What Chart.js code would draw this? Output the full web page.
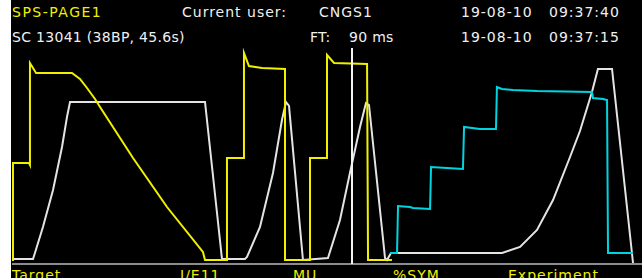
<!DOCTYPE html>
<html>
<head>
<meta charset="utf-8">
<script src="https://cdn.jsdelivr.net/npm/chart.js@4.4.0/dist/chart.umd.min.js"></script>
<style>
    html, body { margin: 0; padding: 0; }
    body { width: 642px; height: 278px; background: #000; position: relative; overflow: hidden;
           font-family: "DejaVu Sans", sans-serif; color: #f0f0f0; }
    .strip { position: absolute; left: 0; top: 0; width: 11px; height: 278px; background: #fff; }
    .txt { position: absolute; white-space: pre; line-height: 1; font-size: 14px; letter-spacing: 1px; }
    .tight { letter-spacing: 0.3px; }
    .yel { color: #f0f000; }
    #chart-box { position: absolute; left: 12px; top: 40px; width: 630px; height: 226px; }
</style>
</head>
<body>
<div class="strip"></div>

<div class="txt yel" style="left:12px; top:5px; letter-spacing:1.5px;">SPS-PAGE1</div>
<div class="txt" style="left:182px; top:5px;">Current user:</div>
<div class="txt" style="left:319px; top:5px;">CNGS1</div>
<div class="txt" style="left:461px; top:5px;">19-08-10</div>
<div class="txt" style="left:549px; top:5px;">09:37:40</div>

<div class="txt tight" style="left:12px; top:30px;">SC 13041 (38BP, 45.6s)</div>
<div class="txt tight" style="left:310px; top:30px;">FT:</div>
<div class="txt tight" style="left:349px; top:30px;">90 ms</div>
<div class="txt" style="left:461px; top:30px;">19-08-10</div>
<div class="txt" style="left:549px; top:30px;">09:37:15</div>

<div class="txt yel" style="left:12px; top:268px;">Target</div>
<div class="txt yel" style="left:180px; top:268px;">I/E11</div>
<div class="txt yel" style="left:293px; top:268px;">MU</div>
<div class="txt yel" style="left:393px; top:268px;">%SYM</div>
<div class="txt yel" style="left:508px; top:268px;">Experiment</div>

<div id="chart-box"><canvas id="cycle-chart"></canvas></div>

<script>
// Time in the supercycle (s) and signal level (arbitrary units)
const yellowTime = [0, 0.07, 0.07, 1.23, 1.30, 1.30, 1.52, 1.74, 4.34, 4.92, 5.43, 6.01, 6.37, 8.76, 11.22, 13.82, 13.97,
    15.56, 15.56, 16.79, 16.79, 17.15, 18.10, 19.76, 19.76,
    21.57, 21.57, 22.80, 22.80, 23.31, 25.70, 25.77, 27.50];
const yellowValue = [0, 0, 24.25, 24.25, 23.75, 49.25, 48, 46.75, 46.75, 45.25, 43, 40.25, 38.25, 25.5, 13.25, 2, 0,
    0, 25.5, 25.5, 51.75, 48.5, 48, 47.75, 0,
    0, 25.5, 25.5, 51.25, 49.25, 49, 0, 0];

const whiteTime = [0, 1.52, 1.66, 2.24, 2.97, 3.62, 3.98, 4.20, 13.97, 15.20,
    16.86, 17.01, 17.95, 18.89, 19.54, 19.83, 20.05, 21.06,
    22.87, 23.74, 24.46, 25.19, 25.62, 25.84, 27.00, 27.14, 27.43,
    35.47, 36.77, 38.00, 39.16, 40.39, 41.11, 41.98, 42.41, 43.43, 44.95];
const whiteValue = [0.25, 0.25, 1.75, 8.25, 17.5, 28.25, 35.75, 39.5, 39.5, 0.25,
    0.25, 0.75, 8.25, 21.75, 35, 39.5, 38.5, 0,
    0.5, 10, 21.75, 33.25, 39.25, 38.75, 0.5, 0, 1.75,
    1.75, 3.25, 7.5, 15, 25.75, 32.25, 42, 47.75, 47.75, -0.75];

const cyanTime = [27.36, 27.87, 27.94, 28.81, 29.02, 30.26, 30.33, 31.49, 32.64, 32.72, 33.87, 35.03, 35.10,
    35.47, 36.26, 38.00, 41.98, 42.05, 42.78, 43.07, 43.14, 44.95];
const cyanValue = [1.75, 1.75, 13.5, 13.25, 13, 12.75, 23.25, 23, 22.75, 33.25, 32.75, 32.75, 43.25,
    42.75, 42.5, 42.25, 42, 40.5, 40.25, 40, 1.75, 1.75];

const cursorTime = [24.61, 24.61];
const cursorValue = [-1, 53];

function toPoints(xs, ys) {
    return xs.map((x, i) => ({ x: x, y: ys[i] }));
}

function lineSet(label, xs, ys, color) {
    return {
        label: label,
        data: toPoints(xs, ys),
        borderColor: color,
        borderWidth: 2,
        pointRadius: 0,
        showLine: true,
        tension: 0,
        fill: false
    };
}

new Chart(document.getElementById('cycle-chart'), {
    type: 'scatter',
    data: {
        datasets: [
            lineSet('cursor', cursorTime, cursorValue, '#f4f4f4'),
            lineSet('yellow', yellowTime, yellowValue, '#f0f000'),
            lineSet('cyan', cyanTime, cyanValue, '#00d4e0'),
            lineSet('white', whiteTime, whiteValue, '#e4e4e4')
        ]
    },
    options: {
        responsive: true,
        maintainAspectRatio: false,
        animation: false,
        layout: { padding: { bottom: 2 } },
        plugins: {
            legend: { display: false },
            tooltip: { enabled: false }
        },
        scales: {
            x: {
                type: 'linear',
                min: 0,
                max: 45.6,
                grid: { display: false, drawTicks: false },
                ticks: { display: false },
                border: { display: true, color: '#8c8c8c', width: 2 }
            },
            y: {
                min: -1,
                max: 55,
                display: false
            }
        }
    }
});
</script>
</body>
</html>
